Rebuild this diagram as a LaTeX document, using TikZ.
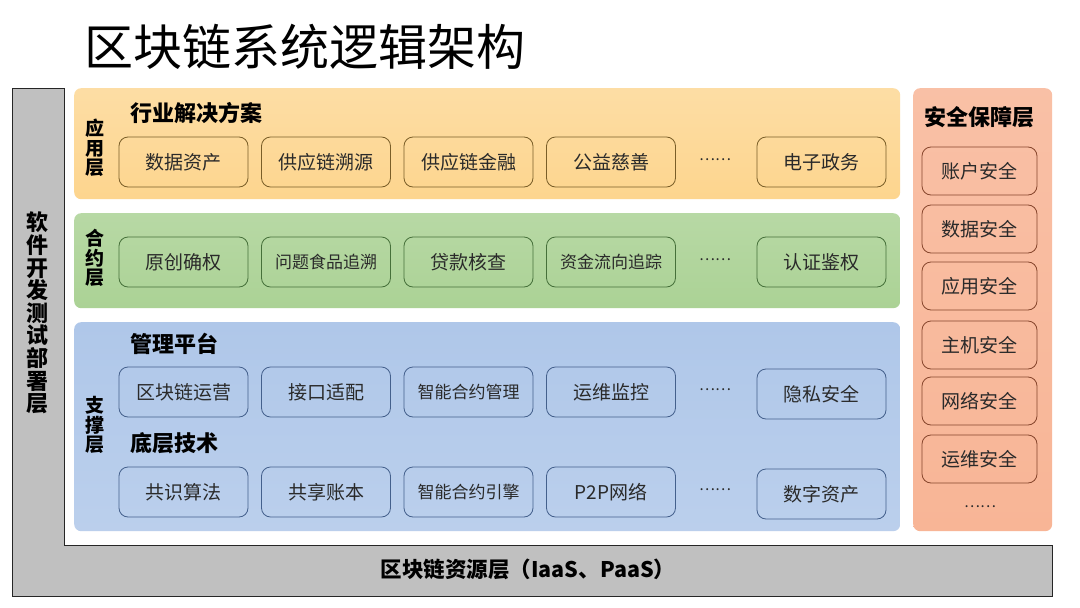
\documentclass[tikz,border=0pt]{standalone}
\usepackage{fontspec}
\setmainfont{Noto Sans CJK SC}
\definecolor{grayfill}{HTML}{C0C0C0}
\definecolor{appfill}{HTML}{FDD58E}
\definecolor{appline}{HTML}{7A5E28}
\definecolor{grfill}{HTML}{ABD295}
\definecolor{grline}{HTML}{46703A}
\definecolor{blfill}{HTML}{AFC7E9}
\definecolor{blline}{HTML}{44608C}
\definecolor{rdfill}{HTML}{F8B596}
\definecolor{rdline}{HTML}{86452C}
\definecolor{txt}{HTML}{2A2A2A}
\tikzset{
  layer/.style={rounded corners=7pt, inner sep=0pt, anchor=north west},
  item/.style={draw, rounded corners=9pt, minimum width=129pt, minimum height=50pt,
    inner sep=0pt, line width=0.8pt, text=txt, font=\fontsize{19}{19}\selectfont},
  small/.style={font=\fontsize{17}{17}\selectfont},
  secitem/.style={item, minimum width=115pt, minimum height=48pt, draw=rdline},
  dots/.style={text=txt, font=\fontsize{15}{15}\selectfont},
  head/.style={anchor=west, font=\fontsize{22}{22}\selectfont\bfseries},
  vlabel/.style={align=center, font=\fontsize{19}{19.5}\selectfont\bfseries, inner sep=0pt}
}
\begin{document}
\begin{tikzpicture}[x=1pt,y=-1pt]
\useasboundingbox (0,0) rectangle (1080,608);
\fill[white] (0,0) rectangle (1080,608);

% title
\node[anchor=west, inner sep=0pt, font=\fontsize{49}{49}\selectfont] (title) at (84,47) {区块链系统逻辑架构};

% gray L-shaped base
\filldraw[fill=grayfill, draw=black!85, line width=0.9pt]
  (12,88) -- (64,88) -- (64,545) -- (1052,545) -- (1052,596) -- (12,596) -- cycle;
\node[vlabel, font=\fontsize{22}{22.6}\selectfont\bfseries] (dev) at (37,313) {软\\件\\开\\发\\测\\试\\部\\署\\层};
\node[font=\fontsize{21.5}{21.5}\selectfont\bfseries, inner sep=0pt] (res) at (528,569) {区块链资源层（IaaS、PaaS）};

% layers
\node[layer, top color=appfill!80!white, bottom color=appfill, minimum width=826pt, minimum height=111pt] (app) at (74,88) {};
\node[layer, top color=grfill!85!white, bottom color=grfill, minimum width=826pt, minimum height=95pt] (con) at (74,213) {};
\node[layer, top color=blfill, bottom color=blfill!85!white, minimum width=826pt, minimum height=209pt] (sup) at (74,322) {};
\node[layer, top color=rdfill!85!white, bottom color=rdfill, minimum width=139pt, minimum height=443pt] (sec) at (913,88) {};

% layer labels
\node[vlabel] (applab) at (95,148) {应\\用\\层};
\node[vlabel] (conlab) at (95,258) {合\\约\\层};
\node[vlabel] (suplab) at (95,425) {支\\撑\\层};
\node[head] (apphead) at (127,113) {行业解决方案};
\node[head] (mgmthead) at (127,344) {管理平台};
\node[head] (basehead) at (127,443) {底层技术};
\node[font=\fontsize{22}{22}\selectfont\bfseries, inner sep=0pt] (sechead) at (979,117) {安全保障层};

% application row
\begin{scope}[every node/.append style={draw=appline}]
\node[item] (a1) at (183.5,162) {数据资产};
\node[item] (a2) at (326,162) {供应链溯源};
\node[item] (a3) at (468.5,162) {供应链金融};
\node[item] (a4) at (611,162) {公益慈善};
\node[item] (a5) at (821.5,162) {电子政务};
\end{scope}
\node[dots] (ad) at (715,160) {……};

% contract row
\begin{scope}[every node/.append style={draw=grline}]
\node[item] (c1) at (183.5,262) {原创确权};
\node[item, small] (c2) at (326,262) {问题食品追溯};
\node[item] (c3) at (468.5,262) {贷款核查};
\node[item, small] (c4) at (611,262) {资金流向追踪};
\node[item] (c5) at (821.5,262) {认证鉴权};
\end{scope}
\node[dots] (cd) at (715,260) {……};

% management row
\begin{scope}[every node/.append style={draw=blline}]
\node[item] (m1) at (183.5,392) {区块链运营};
\node[item] (m2) at (326,392) {接口适配};
\node[item, small] (m3) at (468.5,392) {智能合约管理};
\node[item] (m4) at (611,392) {运维监控};
\node[item] (m5) at (821.5,394) {隐私安全};
\node[item] (b1) at (183.5,492) {共识算法};
\node[item] (b2) at (326,492) {共享账本};
\node[item, small] (b3) at (468.5,492) {智能合约引擎};
\node[item] (b4) at (611,492) {P2P网络};
\node[item] (b5) at (821.5,494) {数字资产};
\end{scope}
\node[dots] (md) at (715,390) {……};
\node[dots] (bd) at (715,490) {……};

% security column
\node[secitem] (s1) at (979.5,171) {账户安全};
\node[secitem] (s2) at (979.5,229) {数据安全};
\node[secitem] (s3) at (979.5,286) {应用安全};
\node[secitem] (s4) at (979.5,345) {主机安全};
\node[secitem] (s5) at (979.5,401) {网络安全};
\node[secitem] (s6) at (979.5,459) {运维安全};
\node[dots] (sd) at (980,507) {……};
\end{tikzpicture}
\end{document}
